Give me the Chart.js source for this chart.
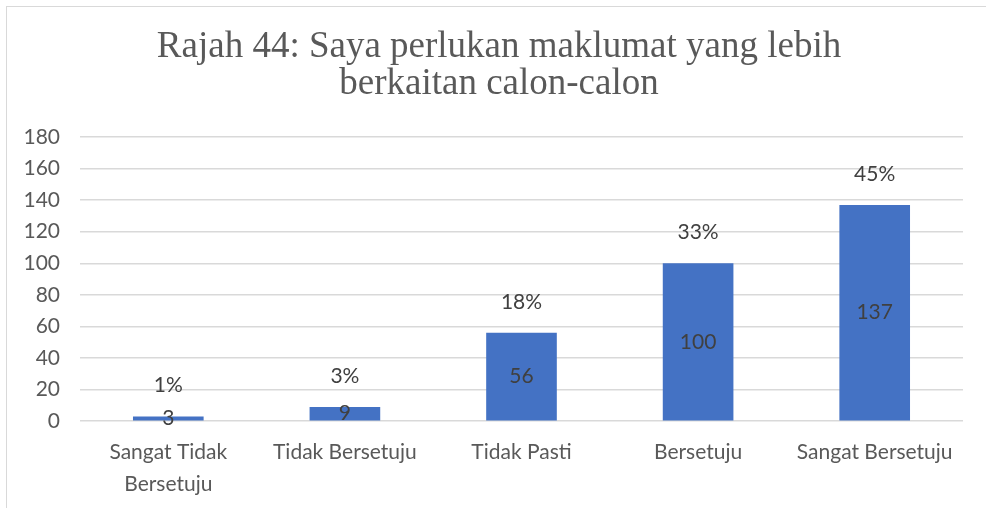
<!DOCTYPE html>
<html>
<head>
<meta charset="utf-8">
<script src="https://cdn.jsdelivr.net/npm/chart.js@4"></script>
<style>
    html, body { margin: 0; padding: 0; background: #fff; }
    #wrap { position: relative; width: 986px; height: 508px; overflow: hidden; }
    #frame { position: absolute; left: 6px; top: 6px; width: 1000px; height: 520px;
             border-left: 1px solid #d9d9d9; border-top: 1px solid #d9d9d9; }
    #chart { position: absolute; left: 0; top: 0; }
</style>
</head>
<body>
<div id="wrap">
    <div id="frame"></div>
    <canvas id="chart" width="998" height="508"></canvas>
</div>
<script>
var categories = [['Sangat Tidak', 'Bersetuju'], 'Tidak Bersetuju', 'Tidak Pasti', 'Bersetuju', 'Sangat Bersetuju'];
var counts = [3, 9, 56, 100, 137];
var shares = [1, 3, 18, 33, 45];
var yTicks = [0, 20, 40, 60, 80, 100, 120, 140, 160, 180];

var labelFont = "Lato, 'Open Sans', sans-serif";

// count in the middle of each bar, share (%) above it
var barLabels = {
    id: 'barLabels',
    afterDatasetsDraw: function (chart) {
        var ctx = chart.ctx;
        var meta = chart.getDatasetMeta(0);
        ctx.save();
        ctx.font = '21px ' + labelFont;
        ctx.fillStyle = '#404040';
        ctx.textAlign = 'center';
        ctx.textBaseline = 'middle';
        meta.data.forEach(function (bar, i) {
            var mid = (bar.y + bar.base) / 2;
            ctx.fillText(String(counts[i]), bar.x, mid);
            ctx.fillText(shares[i] + '%', bar.x, bar.y - 31);
        });
        ctx.restore();
    }
};

var chart = new Chart(document.getElementById('chart').getContext('2d'), {
    type: 'bar',
    data: {
        labels: categories,
        datasets: [{
            data: counts,
            backgroundColor: '#4472C4',
            borderWidth: 0,
            categoryPercentage: 1,
            barPercentage: 0.4
        }]
    },
    options: {
        responsive: false,
        animation: false,
        layout: { padding: { left: 0, right: 0, top: 0, bottom: -7 } },
        plugins: {
            legend: { display: false },
            tooltip: { enabled: false },
            title: {
                display: true,
                text: ['Rajah 44: Saya perlukan maklumat yang lebih', 'berkaitan calon-calon'],
                color: '#595959',
                font: { family: "'Liberation Serif', serif", size: 37, weight: 'normal', lineHeight: 1.0 },
                padding: { top: 29, bottom: 34 }
            }
        },
        scales: {
            x: {
                grid: { display: false, drawTicks: false },
                border: { display: false },
                ticks: {
                    color: '#595959',
                    padding: 15,
                    maxRotation: 0,
                    font: { family: labelFont, size: 21, lineHeight: 1.52 }
                }
            },
            y: {
                min: 0,
                max: 180,
                afterFit: function (scale) { scale.width = 80; },
                afterBuildTicks: function (scale) {
                    scale.ticks = yTicks.map(function (v) { return { value: v }; });
                },
                grid: { color: '#d9d9d9', lineWidth: 1.5, drawTicks: false },
                border: { display: false },
                ticks: {
                    color: '#595959',
                    padding: 20,
                    font: { family: labelFont, size: 21 }
                }
            },
            // empty right-hand margin so the plot ends short of the frame
            yRight: {
                position: 'right',
                min: 0,
                max: 180,
                afterFit: function (scale) { scale.width = 35; },
                grid: { display: false, drawTicks: false },
                border: { display: false },
                ticks: { display: false }
            }
        }
    },
    plugins: [barLabels]
});
</script>
</body>
</html>
